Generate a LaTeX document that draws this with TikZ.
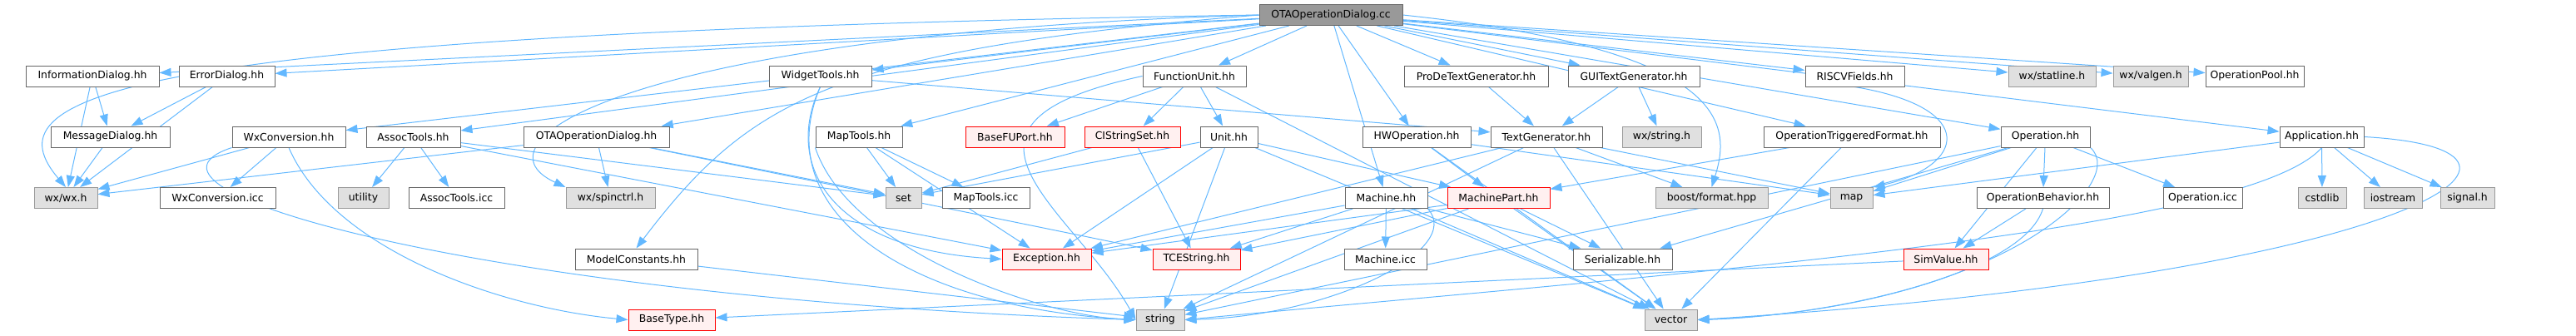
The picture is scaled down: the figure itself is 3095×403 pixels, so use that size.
\documentclass[tikz,border=0pt]{standalone}
\usepackage{fontspec}
\setmainfont{DejaVu Sans}
\usetikzlibrary{arrows.meta,backgrounds}
\definecolor{inc}{HTML}{63B8FF}
\definecolor{frame}{HTML}{666666}
\definecolor{sysfill}{HTML}{E0E0E0}
\definecolor{sysframe}{HTML}{999999}
\definecolor{rootfill}{HTML}{999999}
\definecolor{missfill}{HTML}{FFF0F0}

\begin{document}
\begin{tikzpicture}[x=0.5pt,y=-0.5pt,
  hfile/.style={draw=frame,fill=white,line width=0.5pt,minimum height=12.5pt,inner sep=0pt,font=\fontsize{6.2}{7}\selectfont},
  sysfile/.style={hfile,draw=sysframe,fill=sysfill},
  missfile/.style={hfile,draw=red,fill=missfill},
  rootfile/.style={hfile,fill=rootfill},
  incl/.style={inc,line width=0.5pt,-{Triangle[length=7pt,width=5pt]}}]
  \useasboundingbox (0,0) rectangle (3095,403);
  % source file
  \node[rootfile,minimum width=86pt] (root) at (1599,18) {OTAOperationDialog.cc};
  % direct includes
  \node[hfile,minimum width=80pt] (info) at (111,91.5) {InformationDialog.hh};
  \node[hfile,minimum width=57.5pt] (err) at (272.5,91.5) {ErrorDialog.hh};
  \node[hfile,minimum width=61.5pt] (widget) at (985.5,91.5) {WidgetTools.hh};
  \node[hfile,minimum width=62pt] (fu) at (1435,91.5) {FunctionUnit.hh};
  \node[hfile,minimum width=86.5pt] (prode) at (1773.5,91.5) {ProDeTextGenerator.hh};
  \node[hfile,minimum width=79pt] (guitg) at (1963,91.5) {GUITextGenerator.hh};
  \node[hfile,minimum width=59.5pt] (riscv) at (2228.5,91.5) {RISCVFields.hh};
  \node[sysfile,minimum width=52.5pt] (statline) at (2465.5,91.5) {wx/statline.h};
  \node[sysfile,minimum width=45pt] (valgen) at (2584,91.5) {wx/valgen.h};
  \node[hfile,minimum width=59pt] (oppool) at (2709,91.5) {OperationPool.hh};
  % third row
  \node[hfile,minimum width=71.5pt] (msgdlg) at (132.5,164.5) {MessageDialog.hh};
  \node[hfile,minimum width=68pt] (wxconv) at (347,164.5) {WxConversion.hh};
  \node[hfile,minimum width=56.5pt] (assoc) at (496.5,164.5) {AssocTools.hh};
  \node[hfile,minimum width=87.5pt] (otahh) at (716.5,164.5) {OTAOperationDialog.hh};
  \node[hfile,minimum width=52pt] (maptools) at (1032,164.5) {MapTools.hh};
  \node[missfile,minimum width=59.5pt] (basefu) at (1219.5,164.5) {BaseFUPort.hh};
  \node[missfile,minimum width=57.5pt] (cistr) at (1360.5,164.5) {CIStringSet.hh};
  \node[hfile,minimum width=34.5pt] (unit) at (1476.5,164.5) {Unit.hh};
  \node[hfile,minimum width=65pt] (hwop) at (1702,164.5) {HWOperation.hh};
  \node[hfile,minimum width=67pt] (textgen) at (1858,164.5) {TextGenerator.hh};
  \node[sysfile,minimum width=47.5pt] (wxstring) at (1996.5,164.5) {wx/string.h};
  \node[hfile,minimum width=106pt] (otf) at (2225,164.5) {OperationTriggeredFormat.hh};
  \node[hfile,minimum width=53.5pt] (operation) at (2457.5,164.5) {Operation.hh};
  \node[hfile,minimum width=50.5pt] (app) at (2789.5,164.5) {Application.hh};
  % fourth row
  \node[sysfile,minimum width=38pt] (wxwx) at (79,238) {wx/wx.h};
  \node[hfile,minimum width=69.5pt] (wxconvicc) at (261.5,238) {WxConversion.icc};
  \node[sysfile,minimum width=30.5pt] (utility) at (436.5,238) {utility};
  \node[hfile,minimum width=57.5pt] (associcc) at (548.5,238) {AssocTools.icc};
  \node[sysfile,minimum width=53.5pt] (spinctrl) at (733.5,238) {wx/spinctrl.h};
  \node[sysfile,minimum width=21.5pt] (set) at (1085.5,238) {set};
  \node[hfile,minimum width=52.5pt] (mapicc) at (1184.5,238) {MapTools.icc};
  \node[hfile,minimum width=49.5pt] (machine) at (1665.5,238) {Machine.hh};
  \node[missfile,minimum width=61.5pt] (mpart) at (1800.5,238) {MachinePart.hh};
  \node[sysfile,minimum width=67.5pt] (boost) at (2056.5,238) {boost/format.hpp};
  \node[sysfile,minimum width=25.5pt] (map) at (2224.5,238) {map};
  \node[hfile,minimum width=79.5pt] (opbeh) at (2454.5,238) {OperationBehavior.hh};
  \node[hfile,minimum width=47.5pt] (opicc) at (2646.5,238) {Operation.icc};
  \node[sysfile,minimum width=29pt] (cstdlib) at (2790,238) {cstdlib};
  \node[sysfile,minimum width=35pt] (iostream) at (2875,238) {iostream};
  \node[sysfile,minimum width=32.5pt] (signal) at (2964.5,238) {signal.h};
  % fifth row
  \node[hfile,minimum width=73.5pt] (modelc) at (764.5,311.5) {ModelConstants.hh};
  \node[missfile,minimum width=53.5pt] (exc) at (1257.5,311.5) {Exception.hh};
  \node[missfile,minimum width=52.5pt] (tces) at (1437.5,311.5) {TCEString.hh};
  \node[hfile,minimum width=49.5pt] (machicc) at (1664.5,311.5) {Machine.icc};
  \node[hfile,minimum width=59.5pt] (serial) at (1949.5,311.5) {Serializable.hh};
  \node[missfile,minimum width=51pt] (simval) at (2338,311.5) {SimValue.hh};
  % bottom row
  \node[missfile,minimum width=52pt] (basetype) at (807,384.5) {BaseType.hh};
  \node[sysfile,minimum width=29pt] (string) at (1394,384.5) {string};
  \node[sysfile,minimum width=31.5pt] (vector) at (2007.5,384.5) {vector};

  \begin{scope}[on background layer]
  % straight includes
  \foreach \a/\b in {root/info,root/err,root/wxconv,root/assoc,root/otahh,root/widget,
      root/maptools,root/fu,root/hwop,root/machine,root/prode,root/guitg,root/riscv,
      root/otf,root/operation,root/statline,root/valgen,root/oppool,root/app,
      info/msgdlg,info/wxwx,err/msgdlg,err/wxwx,msgdlg/wxwx,
      wxconv/wxwx,wxconv/wxconvicc,assoc/utility,assoc/associcc,assoc/set,assoc/exc,
      otahh/wxwx,otahh/spinctrl,otahh/set,otahh/tces,
      widget/textgen,maptools/set,maptools/mapicc,maptools/exc,
      fu/basefu,fu/cistr,fu/unit,fu/vector,cistr/set,cistr/tces,
      unit/set,unit/exc,unit/string,unit/vector,unit/mpart,
      hwop/mpart,hwop/map,hwop/vector,
      machine/machicc,machine/serial,machine/exc,machine/tces,machine/vector,
      mpart/serial,mpart/string,mpart/exc,mpart/tces,mpart/vector,
      textgen/boost,textgen/map,textgen/string,textgen/exc,textgen/vector,
      guitg/textgen,guitg/wxstring,prode/textgen,
      otf/vector,otf/mpart,
      operation/map,operation/simval,operation/opbeh,operation/opicc,operation/serial,
      operation/string,opbeh/simval,simval/basetype,modelc/string,
      app/map,app/cstdlib,app/iostream,app/signal}
    \draw[incl] (\a) -- (\b);
  % routed includes
  \draw[incl] (root.west) .. controls (100,40) and (-10,120) .. (wxwx.north);
  \draw[incl] (root.west) .. controls (760,40) and (560,170) .. (spinctrl.north west);
  \draw[incl] (root.west) .. controls (1000,60) and (900,120) .. (modelc.north);
  \draw[incl] (root.east) .. controls (2080,60) and (2080,150) .. (boost.north);
  \draw[incl] (wxconv.south west) .. controls (120,230) and (600,360) .. (string.west);
  \draw[incl] (wxconv.south) .. controls (400,300) and (600,370) .. (basetype.west);
  \draw[incl] (widget.south) .. controls (940,200) and (1000,300) .. (exc.west);
  \draw[incl] (widget.south) .. controls (920,260) and (1100,370) .. (string.west);
  \draw[incl] (maptools.south west) .. controls (1020,300) and (1250,380) .. (string.west);
  \draw[incl] (fu.west) .. controls (1100,150) and (1290,250) .. (string.west);
  \draw[incl] (machine.south east) .. controls (1760,300) and (1600,380) .. (string.east);
  \draw[incl] (riscv.south) .. controls (2380,130) and (2360,200) .. (map.north east);
  \draw[incl] (operation.south east) .. controls (2560,220) and (2400,370) .. (vector.east);
  \draw[incl] (opbeh.south) .. controls (2430,330) and (2200,380) .. (vector.east);
  \draw[incl] (app.south) .. controls (2700,280) and (2000,330) .. (string.east);
  \draw[incl] (app.east) .. controls (3120,180) and (2900,330) .. (vector.east);
  \end{scope}
\end{tikzpicture}
\end{document}
